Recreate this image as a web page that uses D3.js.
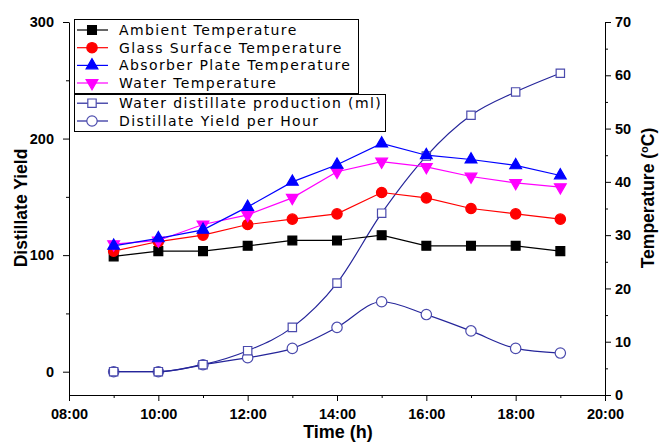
<!DOCTYPE html>
<html>
<head>
<meta charset="utf-8">
<script src="https://cdn.jsdelivr.net/npm/d3@7"></script>
<style>
  html, body { margin: 0; padding: 0; background: #fff; }
  svg { display: block; }
  .tick text { font-family: "Liberation Sans", Arial, sans-serif; font-weight: bold; font-size: 14.5px; fill: #000; }
</style>
</head>
<body>
<svg id="chart" width="663" height="444"></svg>
<script>
// Hours of the day (measurement times)
const hours = [9, 10, 11, 12, 13, 14, 15, 16, 17, 18, 19];

// Temperatures (°C), right axis
const ambientTemp  = [26, 27, 27, 28, 29, 29, 30, 28, 28, 28, 27];
const glassTemp    = [27, 28.8, 30, 32, 33, 34, 38, 37, 35, 34, 33];
const absorberTemp = [28, 29.4, 31, 35.3, 40, 43.2, 47.2, 45, 44.2, 43.1, 41.2];
const waterTemp    = [28.3, 29, 32, 33.8, 37, 41.9, 43.8, 42.8, 41, 39.8, 39];

// Distillate (ml), left axis
const cumulativeProduction = [0, 0, 6, 18, 38, 76, 136, 185, 220, 240, 256];
const hourlyYield          = [0, 0, 6, 12, 20, 38, 60, 49, 35, 20, 16];

// Axis ticks
const xTicks = [8, 10, 12, 14, 16, 18, 20];
const leftTicks = [0, 100, 200, 300];
const rightTicks = [0, 10, 20, 30, 40, 50, 60, 70];

const svg = d3.select("#chart");

const x = d3.scaleLinear().domain([8, 20]).range([69, 605]);
const yL = d3.scaleLinear().domain([-20, 300]).range([395, 22]);
const yR = d3.scaleLinear().domain([0, 70]).range([395, 22]);

const fmtHour = h => String(h).padStart(2, "0") + ":00";

// Bottom axis with minor ticks at odd hours
const gx = svg.append("g").attr("transform", "translate(0,395)");
gx.call(d3.axisBottom(x).tickValues(xTicks).tickFormat(fmtHour).tickSizeOuter(0).tickSize(6).tickPadding(8));
gx.append("g").call(d3.axisBottom(x).tickValues([9, 11, 13, 15, 17, 19]).tickFormat("").tickSize(3).tickSizeOuter(0))
  .select(".domain").remove();

// Left axis
const gl = svg.append("g").attr("transform", "translate(69,0)");
gl.call(d3.axisLeft(yL).tickValues(leftTicks).tickSize(6).tickSizeOuter(0).tickPadding(9));
gl.append("g").call(d3.axisLeft(yL).tickValues([50, 150, 250]).tickFormat("").tickSize(3).tickSizeOuter(0))
  .select(".domain").remove();

// Right axis
const gr = svg.append("g").attr("transform", "translate(605,0)");
gr.call(d3.axisRight(yR).tickValues(rightTicks).tickSize(6).tickSizeOuter(0).tickPadding(4));
gr.append("g").call(d3.axisRight(yR).tickValues([5, 15, 25, 35, 45, 55, 65]).tickFormat("").tickSize(3).tickSizeOuter(0))
  .select(".domain").remove();

svg.selectAll(".domain, .tick line").attr("stroke", "#000").attr("stroke-width", 1);

// Axis titles
const titleFont = "'Liberation Sans', Arial, sans-serif";
svg.append("text").attr("x", 338).attr("y", 438).attr("text-anchor", "middle")
  .attr("font-family", titleFont).attr("font-weight", "bold").attr("font-size", 18).text("Time (h)");
svg.append("text").attr("transform", "translate(27,208) rotate(-90)").attr("text-anchor", "middle")
  .attr("font-family", titleFont).attr("font-weight", "bold").attr("font-size", 17.5).text("Distillate Yield");
const rt = svg.append("text").attr("transform", "translate(654,198) rotate(-90)").attr("text-anchor", "middle")
  .attr("font-family", titleFont).attr("font-weight", "bold").attr("font-size", 17.5);
rt.append("tspan").text("Temperature (");
rt.append("tspan").attr("dy", -6).attr("font-size", 11).text("o");
rt.append("tspan").attr("dy", 6).text("C)");

// Triangle markers centred on the data point
const downTriangle = {
  draw(ctx, size) {
    const s = Math.sqrt(size / (Math.sqrt(3) / 4));
    const h = s * Math.sqrt(3) / 2;
    ctx.moveTo(0, h * 2 / 3);
    ctx.lineTo(-s / 2, -h / 3);
    ctx.lineTo(s / 2, -h / 3);
    ctx.closePath();
  }
};
const upTriangle = {
  draw(ctx, size) {
    const s = Math.sqrt(size / (Math.sqrt(3) / 4));
    const h = s * Math.sqrt(3) / 2;
    ctx.moveTo(0, -h * 2 / 3);
    ctx.lineTo(-s / 2, h / 3);
    ctx.lineTo(s / 2, h / 3);
    ctx.closePath();
  }
};

const series = [
  { name: "Ambient Temperature", values: ambientTemp, y: yR, line: "#000", fill: "#000", stroke: "#000", sym: d3.symbolSquare, size: 78, curve: d3.curveLinear },
  { name: "Glass Surface Temperature", values: glassTemp, y: yR, line: "#ff0000", fill: "#ff0000", stroke: "#ff0000", sym: d3.symbolCircle, size: 85, curve: d3.curveLinear },
  { name: "Absorber Plate Temperature", values: absorberTemp, y: yR, line: "#0000ff", fill: "#0000ff", stroke: "#0000ff", sym: upTriangle, size: 60, curve: d3.curveLinear },
  { name: "Water Temperature", values: waterTemp, y: yR, line: "#ff00ff", fill: "#ff00ff", stroke: "#ff00ff", sym: downTriangle, size: 60, curve: d3.curveLinear },
  { name: "Water distillate production (ml)", values: cumulativeProduction, y: yL, line: "#25259a", fill: "#fff", stroke: "#4b4bad", sym: d3.symbolSquare, size: 70, curve: d3.curveMonotoneX },
  { name: "Distillate Yield per Hour", values: hourlyYield, y: yL, line: "#25259a", fill: "#fff", stroke: "#4b4bad", sym: d3.symbolCircle, size: 85, curve: d3.curveMonotoneX }
];

// Draw order: distillate curves first, temperatures on top
const drawOrder = [5, 4, 0, 1, 3, 2];
drawOrder.forEach(i => {
  const s = series[i];
  const g = svg.append("g");
  const line = d3.line().x((d, j) => x(hours[j])).y(d => s.y(d)).curve(s.curve);
  g.append("path").attr("d", line(s.values)).attr("fill", "none").attr("stroke", s.line).attr("stroke-width", 1.2);
  g.selectAll("path.m").data(s.values).join("path").attr("class", "m")
    .attr("transform", (d, j) => `translate(${x(hours[j])},${s.y(d)})`)
    .attr("d", d3.symbol().type(s.sym).size(s.size)())
    .attr("fill", s.fill).attr("stroke", s.stroke).attr("stroke-width", 1.2);
});

// Legend: two boxes
const legendFont = "'DejaVu Sans', sans-serif";
svg.append("rect").attr("x", 74.5).attr("y", 19.5).attr("width", 284).attr("height", 74)
  .attr("fill", "#fff").attr("stroke", "#000").attr("stroke-width", 1);
svg.append("rect").attr("x", 74.5).attr("y", 94.5).attr("width", 311).attr("height", 37)
  .attr("fill", "#fff").attr("stroke", "#000").attr("stroke-width", 1);

const rowY = [30, 47.7, 65.4, 83, 103.2, 121];
series.forEach((s, i) => {
  const g = svg.append("g").attr("transform", `translate(0,${rowY[i]})`);
  g.append("line").attr("x1", 77).attr("x2", 108).attr("y1", 0).attr("y2", 0)
    .attr("stroke", s.line).attr("stroke-width", 1.2);
  g.append("path").attr("transform", "translate(92,0)")
    .attr("d", d3.symbol().type(s.sym).size(s.size)())
    .attr("fill", s.fill).attr("stroke", s.stroke).attr("stroke-width", 1.2);
  g.append("text").attr("x", 119).attr("y", 5).attr("font-family", legendFont)
    .attr("font-size", 14).attr("letter-spacing", 1.4).attr("fill", "#000").text(s.name);
});
</script>
</body>
</html>
